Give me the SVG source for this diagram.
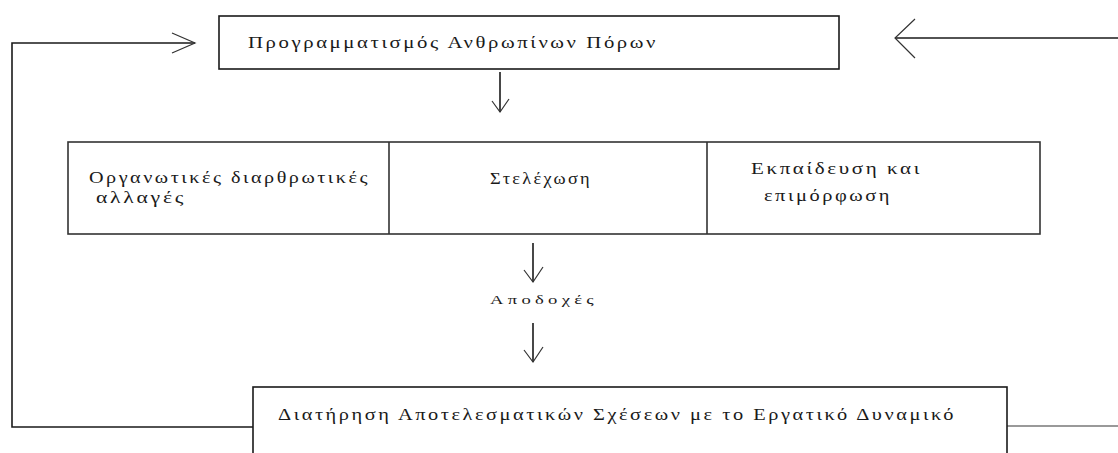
<svg xmlns="http://www.w3.org/2000/svg" width="1118" height="453" viewBox="0 0 1118 453">
<style>
.box{fill:#fff;stroke:#1a1a1a;stroke-width:1.6}
.cell{fill:none;stroke:#333;stroke-width:1.6}
.ln{fill:none;stroke:#1a1a1a;stroke-width:1.6}
.hd{fill:none;stroke:#333;stroke-width:1.2}
.gl{fill:none;stroke:#777;stroke-width:1.4}
text{font-family:"Liberation Serif","DejaVu Serif",serif;font-size:16px;letter-spacing:2px;fill:#1a1a1a}
.sm{font-size:13px;letter-spacing:3px}
</style>
<rect width="1118" height="453" fill="#fff"/>
<g id="connectors">
<polyline class="ln" points="253,427 12,427 12,43 195,43"/>
<polyline class="hd" points="172,33 195,43 172,53"/>
<line class="ln" x1="1118" y1="38" x2="895" y2="38"/>
<polyline class="hd" points="915,19 895,38 915,58"/>
<line class="ln" x1="500" y1="72" x2="500" y2="112"/>
<polyline class="hd" points="492,101 500,112 509,99"/>
<line class="ln" x1="533" y1="243" x2="533" y2="282"/>
<polyline class="hd" points="524,270 533,282 543,267"/>
<line class="ln" x1="533" y1="323" x2="533" y2="362"/>
<polyline class="hd" points="524,350 533,362 543,347"/>
<line class="gl" x1="1007" y1="426" x2="1118" y2="426"/>
</g>
<g id="node-programmatismos">
<rect class="box" x="219" y="16" width="620" height="53"/>
<text x="248" y="48" textLength="410" lengthAdjust="spacingAndGlyphs">Προγραμματισμός Ανθρωπίνων Πόρων</text>
</g>
<g id="node-table">
<rect class="cell" x="68" y="142" width="972" height="92"/>
<line class="cell" x1="389" y1="142" x2="389" y2="234"/>
<line class="cell" x1="707" y1="142" x2="707" y2="234"/>
</g>
<g id="node-organotikes">
<text x="89" y="183" textLength="281" lengthAdjust="spacingAndGlyphs">Οργανωτικές διαρθρωτικές</text>
<text x="96" y="203" textLength="90" lengthAdjust="spacingAndGlyphs">αλλαγές</text>
</g>
<g id="node-stelexosi">
<text x="490" y="184" textLength="102" lengthAdjust="spacingAndGlyphs">Στελέχωση</text>
</g>
<g id="node-ekpaideusi">
<text x="751" y="174" textLength="171" lengthAdjust="spacingAndGlyphs">Εκπαίδευση  και</text>
<text x="764" y="201" textLength="128" lengthAdjust="spacingAndGlyphs">επιμόρφωση</text>
</g>
<g id="node-apodoxes">
<text class="sm" x="490" y="304" textLength="108" lengthAdjust="spacingAndGlyphs">Αποδοχές</text>
</g>
<g id="node-diatirisi">
<rect class="box" x="253" y="387" width="754" height="80"/>
<text x="278" y="420" textLength="678" lengthAdjust="spacingAndGlyphs">Διατήρηση  Αποτελεσματικών Σχέσεων με το Εργατικό Δυναμικό</text>
</g>
</svg>
